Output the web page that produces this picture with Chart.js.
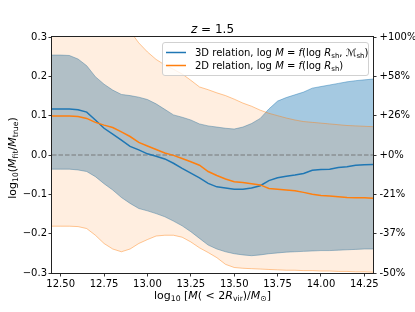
<!DOCTYPE html>
<html>
<head>
<meta charset="utf-8">
<script src="https://cdn.jsdelivr.net/npm/chart.js@4.4.0/dist/chart.umd.min.js"></script>
<style>
    html, body { margin: 0; padding: 0; background: #fff; }
    #wrap { width: 415px; height: 312px; }
</style>
</head>
<body>
<div id="wrap"><canvas id="myChart" width="415" height="312"></canvas></div>
<script>
/**----------------------------------------------------------------  DATA  */
const mass = [12.45, 12.50, 12.55, 12.60, 12.65, 12.70, 12.75, 12.80, 12.85, 12.90,
    12.95, 13.00, 13.05, 13.10, 13.15, 13.20, 13.25, 13.30, 13.35, 13.40,
    13.45, 13.50, 13.55, 13.60, 13.65, 13.70, 13.75, 13.80, 13.85, 13.90,
    13.95, 14.00, 14.05, 14.10, 14.15, 14.20, 14.25, 14.30];

// 3D relation: median and spread
const rel3dMedian = [0.117, 0.117, 0.117, 0.115, 0.109, 0.089, 0.068, 0.053, 0.038, 0.022,
    0.013, 0.003, -0.003, -0.010, -0.021, -0.034, -0.046, -0.058, -0.072, -0.081,
    -0.084, -0.087, -0.087, -0.084, -0.078, -0.065, -0.058, -0.054, -0.051, -0.047,
    -0.039, -0.037, -0.036, -0.032, -0.030, -0.026, -0.025, -0.024];
const rel3dUpper = [0.254, 0.254, 0.253, 0.244, 0.227, 0.199, 0.180, 0.165, 0.154, 0.151,
    0.147, 0.141, 0.130, 0.116, 0.102, 0.096, 0.089, 0.079, 0.074, 0.071,
    0.068, 0.066, 0.071, 0.080, 0.093, 0.117, 0.137, 0.146, 0.153, 0.160,
    0.170, 0.174, 0.178, 0.182, 0.186, 0.189, 0.191, 0.193];
const rel3dLower = [-0.036, -0.036, -0.036, -0.038, -0.042, -0.055, -0.073, -0.089, -0.108, -0.123,
    -0.136, -0.142, -0.149, -0.157, -0.168, -0.180, -0.195, -0.212, -0.229, -0.239,
    -0.246, -0.251, -0.254, -0.256, -0.254, -0.251, -0.249, -0.247, -0.246, -0.245,
    -0.244, -0.243, -0.243, -0.242, -0.241, -0.240, -0.239, -0.239];

// 2D relation: median and spread
const rel2dMedian = [0.099, 0.099, 0.099, 0.098, 0.093, 0.083, 0.076, 0.070, 0.059, 0.047,
    0.032, 0.023, 0.014, 0.005, -0.001, -0.009, -0.017, -0.026, -0.042, -0.052,
    -0.061, -0.068, -0.070, -0.073, -0.076, -0.085, -0.087, -0.089, -0.091, -0.095,
    -0.100, -0.103, -0.104, -0.106, -0.108, -0.109, -0.109, -0.110];
const rel2dUpper = [0.40, 0.40, 0.40, 0.39, 0.38, 0.37, 0.36, 0.35, 0.335, 0.315,
    0.285, 0.262, 0.243, 0.229, 0.218, 0.206, 0.190, 0.173, 0.166, 0.158,
    0.151, 0.142, 0.132, 0.124, 0.114, 0.106, 0.100, 0.094, 0.089, 0.085,
    0.083, 0.081, 0.079, 0.077, 0.075, 0.074, 0.073, 0.072];
const rel2dLower = [-0.181, -0.181, -0.181, -0.182, -0.187, -0.204, -0.225, -0.239, -0.246, -0.239,
    -0.225, -0.215, -0.206, -0.204, -0.204, -0.209, -0.221, -0.236, -0.248, -0.261,
    -0.278, -0.286, -0.288, -0.289, -0.290, -0.291, -0.292, -0.293, -0.293, -0.294,
    -0.294, -0.295, -0.295, -0.296, -0.296, -0.297, -0.297, -0.298];

const refLevel = 0;

const xTicks = [12.50, 12.75, 13.00, 13.25, 13.50, 13.75, 14.00, 14.25];
const yTicks = [-0.3, -0.2, -0.1, 0.0, 0.1, 0.2, 0.3];
const yTickLabels = ['\u22120.3', '\u22120.2', '\u22120.1', '0.0', '0.1', '0.2', '0.3'];
const pctTickLabels = ['-50%', '-37%', '-21%', '+0%', '+26%', '+58%', '+100%'];

// text pieces: [text, style]  r = roman, i = italic, s = subscript
const titleText = [['z', 'i'], [' = 1.5', 'r']];
const xTitle = [['log', 'r'], ['10', 's'], [' [', 'r'], ['M', 'i'], ['( < 2', 'r'], ['R', 'i'], ['vir', 's'], [')/', 'r'], ['M', 'i'], ['\u2299', 's'], [']', 'r']];
const yTitle = [['log', 'r'], ['10', 's'], ['(', 'r'], ['M', 'i'], ['fit', 's'], ['/', 'r'], ['M', 'i'], ['true', 's'], [')', 'r']];
const legendLabels = [
    [['3D relation, log ', 'r'], ['M', 'i'], [' = ', 'r'], ['f', 'i'], ['(log ', 'r'], ['R', 'i'], ['sh', 's'], [', ', 'r'], ['\u2133', 'r'], ['sh', 's'], [')', 'r']],
    [['2D relation, log ', 'r'], ['M', 'i'], [' = ', 'r'], ['f', 'i'], ['(log ', 'r'], ['R', 'i'], ['sh', 's'], [')', 'r']]
];
const legendColors = ['#1f77b4', '#ff7f0e'];

/**----------------------------------------------------------------  CHART  */
const FONT = '"DejaVu Sans", sans-serif';

function drawRich(ctx, parts, x, y, size, align) {
    const fontFor = (st) => (st === 'i' ? 'italic ' : '') + (st === 's' ? size * 0.7 : size) + 'px ' + FONT;
    let total = 0;
    parts.forEach(p => { ctx.font = fontFor(p[1]); total += ctx.measureText(p[0]).width; });
    let cx = align === 'center' ? x - total / 2 : x;
    ctx.textAlign = 'left';
    ctx.textBaseline = 'alphabetic';
    parts.forEach(p => {
        ctx.font = fontFor(p[1]);
        ctx.fillText(p[0], cx, y + (p[1] === 's' ? size * 0.22 : 0));
        cx += ctx.measureText(p[0]).width;
    });
}

const decor = {
    id: 'decor',
    afterDatasetsDraw(chart) {
        const {ctx, chartArea: a} = chart;
        ctx.save();
        // frame
        ctx.strokeStyle = '#222';
        ctx.lineWidth = 1;
        ctx.strokeRect(a.left - 0.5, a.top - 0.5, a.width + 1, a.height + 1);

        // legend
        const lx = 162.5, ly = 42.5, lw = 206, lh = 33;
        ctx.beginPath();
        ctx.roundRect(lx, ly, lw, lh, 2.5);
        ctx.fillStyle = 'rgba(255,255,255,0.8)';
        ctx.fill();
        ctx.strokeStyle = 'rgba(204,204,204,0.9)';
        ctx.lineWidth = 1;
        ctx.stroke();
        legendLabels.forEach((lab, i) => {
            const yy = 52.5 + 13 * i;
            ctx.beginPath();
            ctx.moveTo(166, yy);
            ctx.lineTo(186, yy);
            ctx.strokeStyle = legendColors[i];
            ctx.lineWidth = 1.5;
            ctx.stroke();
            ctx.fillStyle = '#000';
            drawRich(ctx, lab, 195, yy + 3.6, 10, 'left');
        });
        ctx.restore();
    },
    afterDraw(chart) {
        const {ctx, chartArea: a} = chart;
        ctx.save();
        ctx.fillStyle = '#000';
        drawRich(ctx, titleText, (a.left + a.right) / 2, 32.5, 12, 'center');
        drawRich(ctx, xTitle, (a.left + a.right) / 2, 299, 11, 'center');
        ctx.translate(16, 158);
        ctx.rotate(-Math.PI / 2);
        drawRich(ctx, yTitle, 0, 0, 11, 'center');
        ctx.restore();
    }
};

const series = (vals) => mass.map((m, i) => ({x: m, y: vals[i]}));

const data = {
    datasets: [
        {data: series(rel3dUpper), borderColor: 'rgba(31,119,180,0.55)', borderWidth: 0.8,
            backgroundColor: 'rgba(31,119,180,0.4)', fill: '+1', order: 10},
        {data: series(rel3dLower), borderColor: 'rgba(31,119,180,0.55)', borderWidth: 0.8, order: 9},
        {data: series(rel2dUpper), borderColor: 'rgba(255,127,14,0.55)', borderWidth: 0.8,
            backgroundColor: 'rgba(255,127,14,0.13)', fill: '+1', order: 8},
        {data: series(rel2dLower), borderColor: 'rgba(255,127,14,0.55)', borderWidth: 0.8, order: 7},
        {data: mass.map(m => ({x: m, y: refLevel})), borderColor: 'rgba(110,110,110,0.85)',
            borderWidth: 1.2, borderDash: [4.5, 2], order: 3},
        {data: series(rel3dMedian), borderColor: '#1f77b4', borderWidth: 1.5, order: 2},
        {data: series(rel2dMedian), borderColor: '#ff7f0e', borderWidth: 1.5, order: 1}
    ]
};

const tickGrid = {drawOnChartArea: false, tickLength: 3.5, color: '#000', lineWidth: 0.8};

const config = {
    type: 'line',
    data,
    options: {
        responsive: false,
        animation: false,
        layout: {padding: {top: 37}},
        elements: {point: {radius: 0}, line: {tension: 0}},
        scales: {
            x: {
                type: 'linear',
                min: 12.45,
                max: 14.30,
                afterBuildTicks: s => { s.ticks = xTicks.map(v => ({value: v})); },
                afterFit: s => { s.height = 39; },
                grid: tickGrid,
                border: {display: false},
                ticks: {
                    callback: v => v.toFixed(2),
                    color: '#000', padding: 2, maxRotation: 0, autoSkip: false,
                    font: {family: FONT, size: 10}
                }
            },
            y: {
                position: 'left',
                min: -0.3,
                max: 0.3,
                afterBuildTicks: s => { s.ticks = yTicks.map(v => ({value: v})); },
                afterFit: s => { s.width = 52; },
                grid: tickGrid,
                border: {display: false},
                ticks: {
                    callback: (v, i) => yTickLabels[i],
                    color: '#000', padding: 1.5,
                    font: {family: FONT, size: 10}
                }
            },
            y2: {
                position: 'right',
                min: -0.3,
                max: 0.3,
                afterBuildTicks: s => { s.ticks = yTicks.map(v => ({value: v})); },
                afterFit: s => { s.width = 42; },
                grid: tickGrid,
                border: {display: false},
                ticks: {
                    callback: (v, i) => pctTickLabels[i],
                    color: '#000', padding: 3,
                    font: {family: FONT, size: 10}
                }
            }
        },
        plugins: {
            legend: {display: false},
            tooltip: {enabled: false}
        }
    },
    plugins: [decor]
};

new Chart(document.getElementById('myChart'), config);
</script>
</body>
</html>
